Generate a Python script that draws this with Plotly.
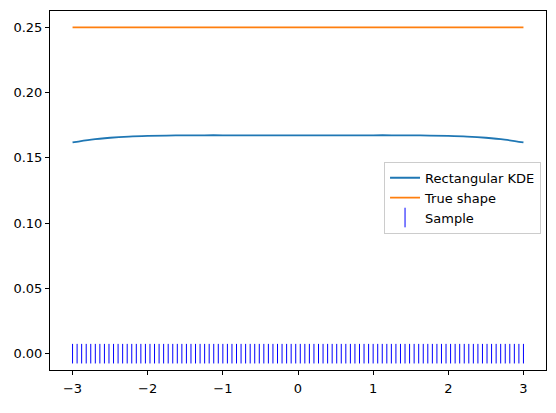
import plotly.graph_objects as go

# evaluation grid and estimated KDE values
kde_x = [-3.0, -2.75, -2.5, -2.25, -2.0, -1.75, -1.5, -1.25, -1.0, -0.75, -0.5, -0.25, 0.0,
         0.25, 0.5, 0.75, 1.0, 1.25, 1.5, 1.75, 2.0, 2.25, 2.5, 2.75, 3.0]
kde_y = [0.1618, 0.1640, 0.1654, 0.1663, 0.1668, 0.1671, 0.1672, 0.1673, 0.1673, 0.1673, 0.1673, 0.1673, 0.1673,
         0.1673, 0.1673, 0.1673, 0.1673, 0.1673, 0.1672, 0.1671, 0.1668, 0.1663, 0.1654, 0.1640, 0.1618]

true_x = [-3.0, 3.0]
true_y = [0.25, 0.25]

# 100 sample points evenly spread on [-3, 3]
n_sample = 100
sample_x = [-3.0 + 6.0 * i / (n_sample - 1) for i in range(n_sample)]
sample_y = [0.0] * n_sample

fig = go.Figure()
fig.add_trace(go.Scatter(x=kde_x, y=kde_y, mode="lines", name="Rectangular KDE",
                         line=dict(color="#1f77b4", width=1.8, shape="spline")))
fig.add_trace(go.Scatter(x=true_x, y=true_y, mode="lines", name="True shape",
                         line=dict(color="#ff7f0e", width=1.8)))
fig.add_trace(go.Scatter(x=sample_x, y=sample_y, mode="markers", name="Sample",
                         marker=dict(symbol="line-ns", size=14, color="blue",
                                     line=dict(color="blue", width=1))))

axis_style = dict(showgrid=False, zeroline=False, showline=True, linecolor="black",
                  linewidth=1, mirror=True, ticks="outside", ticklen=4,
                  tickcolor="black", tickfont=dict(size=13, color="black"),
                  automargin=False)

fig.update_xaxes(range=[-3.3, 3.3], tickmode="array", tickvals=[-3, -2, -1, 0, 1, 2, 3],
                 ticklabelstandoff=2, **axis_style)
fig.update_yaxes(range=[-0.0125, 0.2625], tickmode="array",
                 tickvals=[0, 0.05, 0.10, 0.15, 0.20, 0.25], tickformat=".2f",
                 **axis_style)

# page body adds an 8px margin, so the figure is a bit smaller than the window
fig.update_layout(
    width=548, height=405,
    margin=dict(l=42, r=10, t=3, b=43),
    plot_bgcolor="white", paper_bgcolor="white",
    font=dict(family="DejaVu Sans", size=12, color="black"),
    legend=dict(x=0.99, y=0.58, xanchor="right", yanchor="top",
                bordercolor="#cccccc", borderwidth=1, bgcolor="rgba(255,255,255,0.8)",
                font=dict(size=13), tracegroupgap=0),
    showlegend=True,
)

fig.write_html("out.html")
